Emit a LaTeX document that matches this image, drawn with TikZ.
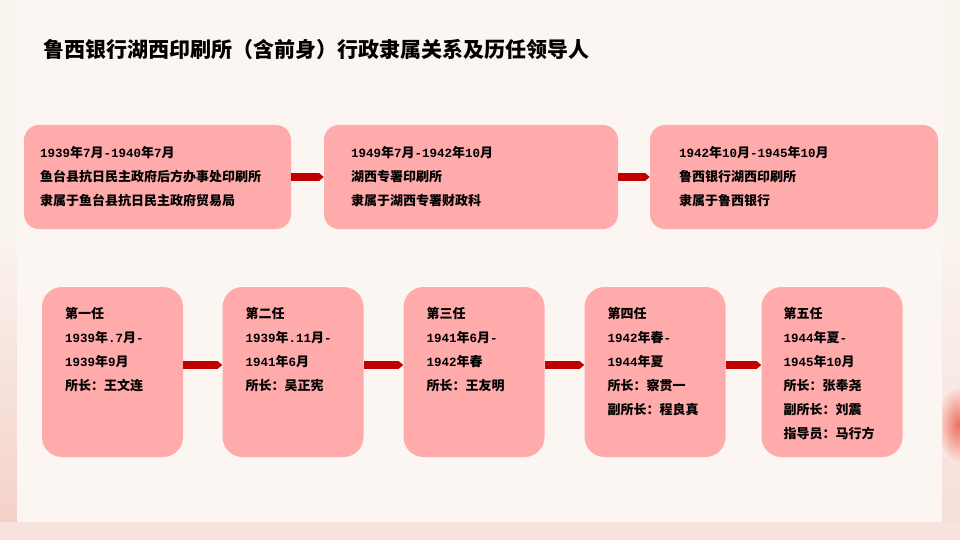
\documentclass[tikz,border=0pt]{standalone}
\usepackage{fontspec}
\usetikzlibrary{arrows.meta}
\newfontfamily\cjk{Noto Sans CJK SC}
\newfontfamily\monof{Liberation Mono}
\newcommand\nm[1]{{\monof\bfseries\fontsize{12.5}{24}\selectfont #1}}
\definecolor{bgcream}{HTML}{FAF4EF}
\definecolor{panelcream}{HTML}{FCF6F2}
\definecolor{washpink}{HTML}{F3CFC6}
\definecolor{boxpink}{HTML}{FFABAB}
\definecolor{barred}{HTML}{C00000}
\definecolor{blotred}{HTML}{EE6F5E}
\tikzset{
  topbox/.style={fill=boxpink, rounded corners=15pt, minimum height=104pt, inner sep=0pt},
  leadbox/.style={fill=boxpink, rounded corners=20pt, minimum width=141pt, minimum height=170pt, inner sep=0pt},
  lbl/.style={font=\cjk\bfseries\fontsize{13}{24}\selectfont, align=left, inner sep=0pt},
  flow/.style={draw=barred, line width=8pt, -{Triangle[length=5pt,width=8pt]}}
}
\begin{document}
\begin{tikzpicture}[x=1pt,y=-1pt]
\useasboundingbox (0,0) rectangle (960,540);
% background and panel
\fill[bgcream] (0,0) rectangle (960,540);
\shade[top color=bgcream, bottom color=washpink] (0,230) rectangle (17,540);
\shade[top color=bgcream, bottom color=washpink!70] (942,230) rectangle (960,540);
\begin{scope}
\clip (942,230) rectangle (960,540);
\shade[inner color=blotred, outer color=washpink!40] (958,425) ellipse (22 and 40);
\end{scope}
\fill[washpink!60] (0,522) rectangle (960,540);
\fill[panelcream] (17,0) rectangle (942,522);
% title
\node[font=\cjk\bfseries\fontsize{21}{24}\selectfont, anchor=west, inner sep=0pt] (title) at (43,50) {鲁西银行湖西印刷所（含前身）行政隶属关系及历任领导人};
% affiliation boxes
\node[topbox, minimum width=267pt] (a) at (157.5,177) {};
\node[topbox, minimum width=294pt] (b) at (471,177) {};
\node[topbox, minimum width=288pt] (c) at (794,177) {};
\node[lbl, anchor=west] (ta) at ([xshift=16pt]a.west) {\nm{1939}年\nm{7}月\nm{-1940}年\nm{7}月\\鱼台县抗日民主政府后方办事处印刷所\\隶属于鱼台县抗日民主政府贸易局};
\node[lbl, anchor=west] (tb) at ([xshift=27pt]b.west) {\nm{1949}年\nm{7}月\nm{-1942}年\nm{10}月\\湖西专署印刷所\\隶属于湖西专署财政科};
\node[lbl, anchor=west] (tc) at ([xshift=29pt]c.west) {\nm{1942}年\nm{10}月\nm{-1945}年\nm{10}月\\鲁西银行湖西印刷所\\隶属于鲁西银行};
\draw[flow] (a) -- (b);
\draw[flow] (b) -- (c);
% leaders
\node[leadbox] (p1) at (112.5,372) {};
\node[leadbox] (p2) at (293,372) {};
\node[leadbox] (p3) at (474,372) {};
\node[leadbox] (p4) at (655,372) {};
\node[leadbox] (p5) at (832,372) {};
\node[lbl, anchor=north west] (t1) at ([xshift=23pt,yshift=-20pt]p1.north west) {第一任\\\nm{1939}年\nm{.7}月\nm{-}\\\nm{1939}年\nm{9}月\\所长：王文连};
\node[lbl, anchor=north west] (t2) at ([xshift=23pt,yshift=-20pt]p2.north west) {第二任\\\nm{1939}年\nm{.11}月\nm{-}\\\nm{1941}年\nm{6}月\\所长：吴正宪};
\node[lbl, anchor=north west] (t3) at ([xshift=23pt,yshift=-20pt]p3.north west) {第三任\\\nm{1941}年\nm{6}月\nm{-}\\\nm{1942}年春\\所长：王友明};
\node[lbl, anchor=north west] (t4) at ([xshift=23pt,yshift=-20pt]p4.north west) {第四任\\\nm{1942}年春\nm{-}\\\nm{1944}年夏\\所长：察贯一\\副所长：程良真};
\node[lbl, anchor=north west] (t5) at ([xshift=22pt,yshift=-20pt]p5.north west) {第五任\\\nm{1944}年夏\nm{-}\\\nm{1945}年\nm{10}月\\所长：张奉尧\\副所长：刘震\\指导员：马行方};
\draw[flow] ([yshift=7pt]p1.east) -- ([yshift=7pt]p2.west);
\draw[flow] ([yshift=7pt]p2.east) -- ([yshift=7pt]p3.west);
\draw[flow] ([yshift=7pt]p3.east) -- ([yshift=7pt]p4.west);
\draw[flow] ([yshift=7pt]p4.east) -- ([yshift=7pt]p5.west);
\end{tikzpicture}
\end{document}
